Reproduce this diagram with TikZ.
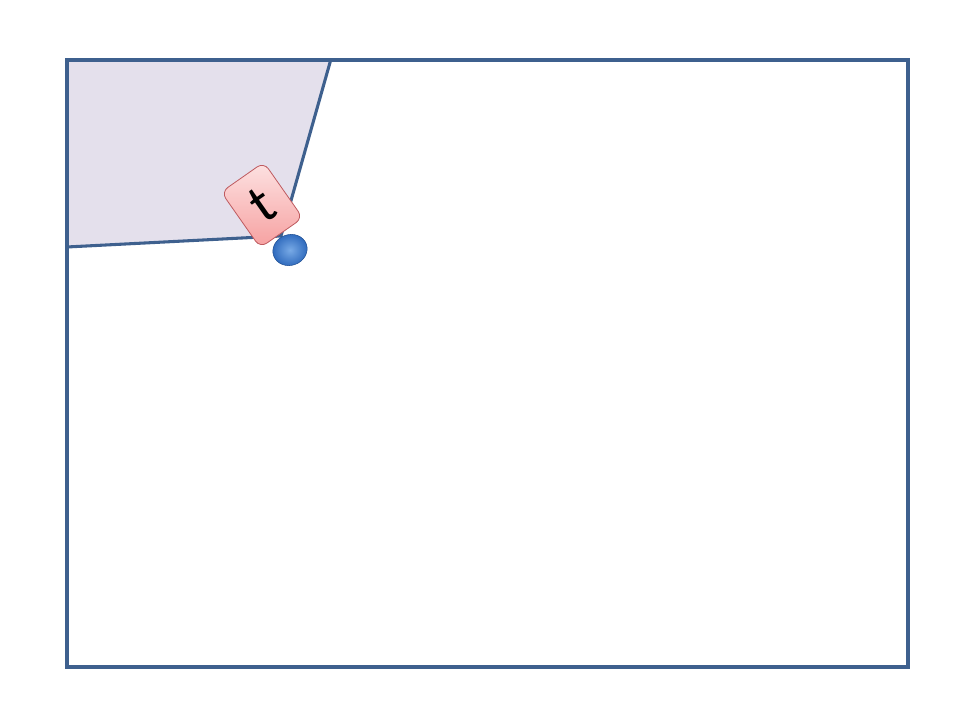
\documentclass[tikz,border=0pt]{standalone}
\usepackage{fontspec}
\setmainfont{Carlito}
\usetikzlibrary{shapes.geometric}
\definecolor{frameblue}{RGB}{62,96,142}
\definecolor{lav}{RGB}{228,224,236}
\definecolor{tagtop}{RGB}{253,226,226}
\definecolor{tagbot}{RGB}{246,160,160}
\definecolor{tagedge}{RGB}{190,90,95}
\definecolor{ballin}{RGB}{120,170,230}
\definecolor{ballout}{RGB}{40,100,185}
\tikzset{
  frameline/.style={draw=frameblue, line width=2.3pt},
  tagbox/.style={draw=tagedge, line width=0.6pt, rounded corners=6pt,
    top color=tagtop, bottom color=tagbot, minimum width=39pt,
    minimum height=51pt, inner sep=0pt, rotate=35, font=\fontsize{42}{42}\selectfont},
  ballshape/.style={ellipse, draw=ballout!80!black, line width=0.4pt,
    inner color=ballin, outer color=ballout, minimum width=26pt,
    minimum height=23pt, inner sep=0pt, rotate=20}
}
\begin{document}
\begin{tikzpicture}[x=0.75pt,y=0.75pt]
\useasboundingbox (0,0) rectangle (960,720);
\fill[white] (0,0) rectangle (960,720);
\coordinate (pa) at (67,660);
\coordinate (pb) at (331,661);
\coordinate (pc) at (281,484);
\coordinate (pd) at (67,473);
\fill[lav] (pa) -- (pb) -- (pc) -- (pd) -- cycle;
\draw[frameline, line join=round] (pb) -- (pc) -- (pd);
\draw[frameline] (67,53) rectangle (908,660);
\node[ballshape] (ball) at (290,470) {};
\node[tagbox] (tag) at (262,515) {t};
\end{tikzpicture}
\end{document}
